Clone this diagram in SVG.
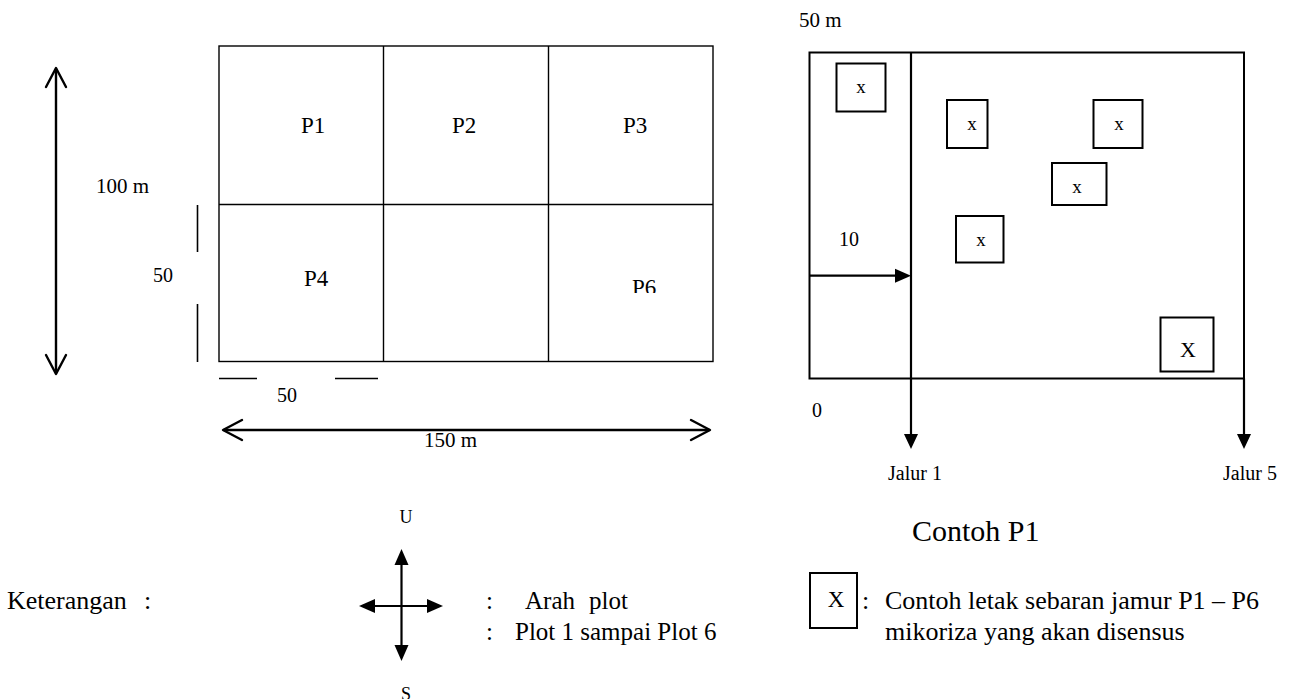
<svg xmlns="http://www.w3.org/2000/svg" width="1290" height="699" viewBox="0 0 1290 699">
<style>
text{font-family:"Liberation Serif","Times New Roman",serif;fill:#000}
.grid{fill:none;stroke:#000;stroke-width:1.4}
.tick{stroke:#000;stroke-width:1.6;fill:none}
.dim{stroke:#000;stroke-width:2.4;fill:none;stroke-linecap:round;stroke-linejoin:round}
.box{fill:none;stroke:#000;stroke-width:2}
.ln{stroke:#000;stroke-width:2.2;fill:none}
.head{fill:#000;stroke:none}
.f20{font-size:20px}.f21{font-size:21px}.f23{font-size:23px}.f19{font-size:19px}
.f25{font-size:25px}.f26{font-size:26px}
</style>
<defs>
<clipPath id="clipP6"><rect x="600" y="260" width="100" height="33"/></clipPath>
</defs>

<!-- Left plot grid -->
<g id="plot-grid">
<rect class="grid" x="219" y="46" width="494" height="315.5"/>
<line class="grid" x1="383.5" y1="46" x2="383.5" y2="361.5"/>
<line class="grid" x1="548.5" y1="46" x2="548.5" y2="361.5"/>
<line class="grid" x1="219" y1="204.5" x2="713" y2="204.5"/>
</g>
<g id="P1"><text class="f23" x="301" y="133">P1</text></g>
<g id="P2"><text class="f23" x="452" y="133">P2</text></g>
<g id="P3"><text class="f23" x="623" y="133">P3</text></g>
<g id="P4"><text class="f23" x="304" y="286">P4</text></g>
<g id="P6"><text class="f23" x="632" y="295" clip-path="url(#clipP6)">P6</text></g>

<!-- Dimensions left -->
<g id="dim-100">
<line class="dim" x1="56" y1="69" x2="56" y2="373"/>
<polyline class="dim" points="46,87 56,68 66,87"/>
<polyline class="dim" points="46,355 56,374 66,355"/>
<text class="f21" x="96" y="193">100 m</text>
</g>
<g id="dim-50v">
<line class="tick" x1="197.5" y1="205" x2="197.5" y2="252"/>
<line class="tick" x1="197.5" y1="304" x2="197.5" y2="362"/>
<text class="f20" x="153" y="282">50</text>
</g>
<g id="dim-50h">
<line class="tick" x1="219" y1="378.5" x2="257" y2="378.5"/>
<line class="tick" x1="335" y1="378.5" x2="378" y2="378.5"/>
<text class="f20" x="277" y="402">50</text>
</g>
<g id="dim-150">
<line class="dim" x1="224" y1="430" x2="709" y2="430"/>
<polyline class="dim" points="242,420 223,430 242,440"/>
<polyline class="dim" points="691,420 710,430 691,440"/>
<text class="f21" x="424" y="447">150 m</text>
</g>

<!-- Right: Contoh P1 -->
<g id="contoh-box">
<rect class="box" x="809.5" y="52.5" width="434.5" height="326"/>
<text class="f21" x="799" y="27">50 m</text>
<text class="f20" x="812" y="417">0</text>
<text class="f20" x="839" y="246">10</text>
</g>
<g id="connectors">
<line class="ln" x1="911" y1="52.5" x2="911" y2="436"/>
<polygon class="head" points="904,434 918,434 911,449"/>
<line class="ln" x1="1244" y1="378.5" x2="1244" y2="436"/>
<polygon class="head" points="1237,434 1251,434 1244,449"/>
<line class="ln" x1="809.5" y1="275.7" x2="898" y2="275.7"/>
<polygon class="head" points="895,268.7 895,282.7 911,275.7"/>
</g>
<g id="jalur1"><text class="f20" x="888" y="480">Jalur 1</text></g>
<g id="jalur5"><text class="f20" x="1223" y="480">Jalur 5</text></g>

<g id="s1"><rect class="box" x="836.5" y="63.5" width="49" height="48"/><text class="f19" x="861" y="93" text-anchor="middle">x</text></g>
<g id="s2"><rect class="box" x="947" y="100" width="40.5" height="48"/><text class="f19" x="972" y="130" text-anchor="middle">x</text></g>
<g id="s3"><rect class="box" x="1093.5" y="100" width="49" height="48"/><text class="f19" x="1119" y="130" text-anchor="middle">x</text></g>
<g id="s4"><rect class="box" x="1052" y="163" width="54.5" height="42"/><text class="f19" x="1077" y="193" text-anchor="middle">x</text></g>
<g id="s5"><rect class="box" x="956" y="216" width="47.5" height="46.5"/><text class="f19" x="981" y="246" text-anchor="middle">x</text></g>
<g id="s6"><rect class="box" x="1160.5" y="317.5" width="53" height="54"/><text x="1188" y="357" font-size="22" text-anchor="middle">X</text></g>

<g id="title-contoh"><text x="912" y="541" font-size="30">Contoh P1</text></g>

<!-- Legend -->
<g id="keterangan">
<text class="f26" x="7" y="609">Keterangan</text>
<text class="f26" x="144" y="609">:</text>
</g>
<g id="compass">
<line class="ln" x1="401.5" y1="562" x2="401.5" y2="648"/>
<polygon class="head" points="394.5,565 408.5,565 401.5,549"/>
<polygon class="head" points="394.5,645 408.5,645 401.5,661"/>
<line class="ln" x1="372" y1="606" x2="430" y2="606"/>
<polygon class="head" points="375,599 375,613 359,606"/>
<polygon class="head" points="427,599 427,613 443,606"/>
<text x="406" y="523" font-size="18" text-anchor="middle">U</text>
<text x="406" y="700" font-size="18" text-anchor="middle">S</text>
</g>
<g id="legend-arah">
<text class="f25" x="486" y="609">:</text>
<text class="f25" x="525" y="609">Arah</text>
<text class="f25" x="589" y="609">plot</text>
<text class="f25" x="486" y="640">:</text>
<text class="f25" x="515" y="640">Plot 1 sampai Plot 6</text>
</g>
<g id="legend-x">
<rect class="box" x="810" y="573" width="47" height="55"/>
<text x="836" y="607" font-size="23" text-anchor="middle">X</text>
<text class="f26" x="862" y="609">:</text>
<text class="f26" x="885" y="609">Contoh letak sebaran jamur P1 – P6</text>
<text class="f26" x="885" y="640">mikoriza yang akan disensus</text>
</g>
</svg>
